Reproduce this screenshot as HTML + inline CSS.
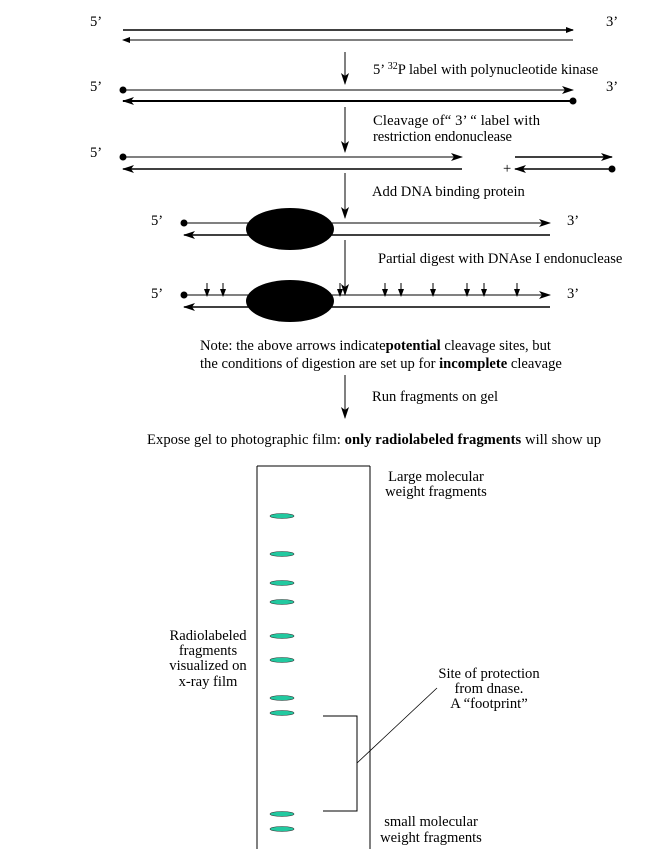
<!DOCTYPE html>
<html><head><meta charset="utf-8"><style>
html,body{margin:0;padding:0;background:#fff}
svg{display:block}
text{font-family:"Liberation Serif",serif;font-size:14.6px;fill:#000}
.b{font-weight:bold}
</style></head><body>
<svg width="649" height="849" viewBox="0 0 649 849" xmlns="http://www.w3.org/2000/svg">
<defs>
<marker id="a" markerWidth="12" markerHeight="8" refX="11" refY="4" orient="auto" markerUnits="userSpaceOnUse"><path d="M0,0 L12,4 L0,8 L3,4 Z" fill="#000"/></marker>
<marker id="s" markerWidth="8" markerHeight="6" refX="7" refY="3" orient="auto" markerUnits="userSpaceOnUse"><path d="M0,0 L8,3 L0,6 Z" fill="#000"/></marker>
</defs>
<g stroke="#000" fill="none">
<line x1="123" y1="30" x2="573" y2="30" stroke-width="1.5" marker-end="url(#s)"/>
<line x1="573" y1="40" x2="123" y2="40" stroke-width="1" marker-end="url(#s)"/>
<line x1="345" y1="52" x2="345" y2="84" marker-end="url(#a)"/>
<line x1="123" y1="90" x2="573" y2="90" stroke-width="1" marker-end="url(#a)"/>
<line x1="573" y1="101" x2="123" y2="101" stroke-width="2" marker-end="url(#a)"/>
<line x1="345" y1="107" x2="345" y2="152" marker-end="url(#a)"/>
<line x1="123" y1="157" x2="462" y2="157" marker-end="url(#a)"/>
<line x1="462" y1="169" x2="123" y2="169" stroke-width="1.5" marker-end="url(#a)"/>
<line x1="515" y1="157" x2="612" y2="157" stroke-width="1.5" marker-end="url(#a)"/>
<line x1="612" y1="169" x2="515" y2="169" stroke-width="1.5" marker-end="url(#a)"/>
<line x1="345" y1="173" x2="345" y2="218" marker-end="url(#a)"/>
<line x1="184" y1="223" x2="550" y2="223" marker-end="url(#a)"/>
<line x1="550" y1="235" x2="184" y2="235" stroke-width="1.5" marker-end="url(#a)"/>
<line x1="345" y1="240" x2="345" y2="295" marker-end="url(#a)"/>
<line x1="184" y1="295" x2="550" y2="295" marker-end="url(#a)"/>
<line x1="550" y1="307" x2="184" y2="307" stroke-width="1.5" marker-end="url(#a)"/>
<g stroke-width="1">
<line x1="207" y1="283" x2="207" y2="296" marker-end="url(#s)"/>
<line x1="223" y1="283" x2="223" y2="296" marker-end="url(#s)"/>
<line x1="340" y1="283" x2="340" y2="296" marker-end="url(#s)"/>
<line x1="385" y1="283" x2="385" y2="296" marker-end="url(#s)"/>
<line x1="401" y1="283" x2="401" y2="296" marker-end="url(#s)"/>
<line x1="433" y1="283" x2="433" y2="296" marker-end="url(#s)"/>
<line x1="467" y1="283" x2="467" y2="296" marker-end="url(#s)"/>
<line x1="484" y1="283" x2="484" y2="296" marker-end="url(#s)"/>
<line x1="517" y1="283" x2="517" y2="296" marker-end="url(#s)"/>
</g>
<line x1="345" y1="375" x2="345" y2="418" marker-end="url(#a)"/>
<line x1="257" y1="466" x2="370" y2="466"/>
<line x1="257" y1="466" x2="257" y2="849"/>
<line x1="370" y1="466" x2="370" y2="849"/>
<polyline points="323,716 357,716 357,811 323,811"/>
<line x1="357" y1="763" x2="437" y2="688" stroke-width="0.8"/>
</g>
<g fill="#000">
<circle cx="123" cy="90" r="3.5"/><circle cx="573" cy="101" r="3.5"/>
<circle cx="123" cy="157" r="3.5"/><circle cx="612" cy="169" r="3.5"/>
<circle cx="184" cy="223" r="3.5"/><circle cx="184" cy="295" r="3.5"/>
<ellipse cx="290" cy="229" rx="44" ry="21"/>
<ellipse cx="290" cy="301" rx="44" ry="21"/>
</g>
<g fill="#22c9a0" stroke="#333" stroke-width="0.6">
<ellipse cx="282" cy="516" rx="12" ry="2.5"/><ellipse cx="282" cy="554" rx="12" ry="2.5"/>
<ellipse cx="282" cy="583" rx="12" ry="2.5"/><ellipse cx="282" cy="602" rx="12" ry="2.5"/>
<ellipse cx="282" cy="636" rx="12" ry="2.5"/><ellipse cx="282" cy="660" rx="12" ry="2.5"/>
<ellipse cx="282" cy="698" rx="12" ry="2.5"/><ellipse cx="282" cy="713" rx="12" ry="2.5"/>
<ellipse cx="282" cy="814" rx="12" ry="2.5"/><ellipse cx="282" cy="829" rx="12" ry="2.5"/>
</g>
<text x="90" y="26">5’</text><text x="606" y="26">3’</text>
<text x="373" y="74">5’ <tspan font-size="10" dy="-5">32</tspan><tspan dy="5">P label with polynucleotide kinase</tspan></text>
<text x="90" y="91">5’</text><text x="606" y="91">3’</text>
<text x="373" y="125" textLength="167">Cleavage of“ 3’ “ label with</text>
<text x="373" y="141" textLength="139">restriction endonuclease</text>
<text x="90" y="157">5’</text>
<text x="503" y="173">+</text>
<text x="372" y="196">Add DNA binding protein</text>
<text x="151" y="225">5’</text><text x="567" y="225">3’</text>
<text x="378" y="263">Partial digest with DNAse I endonuclease</text>
<text x="151" y="298">5’</text><text x="567" y="298">3’</text>
<text x="200" y="350">Note: the above arrows indicate<tspan class="b">potential</tspan> cleavage sites, but</text>
<text x="200" y="368">the conditions of digestion are set up for <tspan class="b">incomplete</tspan> cleavage</text>
<text x="372" y="401">Run fragments on gel</text>
<text x="147" y="444" textLength="454">Expose gel to photographic film: <tspan class="b">only radiolabeled fragments</tspan> will show up</text>
<g text-anchor="middle">
<text x="436" y="481">Large molecular</text>
<text x="436" y="496">weight fragments</text>
<text x="208" y="640">Radiolabeled</text>
<text x="208" y="655">fragments</text>
<text x="208" y="670">visualized on</text>
<text x="208" y="686">x-ray film</text>
<text x="489" y="678">Site of protection</text>
<text x="489" y="693">from dnase.</text>
<text x="489" y="708">A “footprint”</text>
<text x="431" y="826">small molecular</text>
<text x="431" y="842">weight fragments</text>
</g>
</svg>
</body></html>
